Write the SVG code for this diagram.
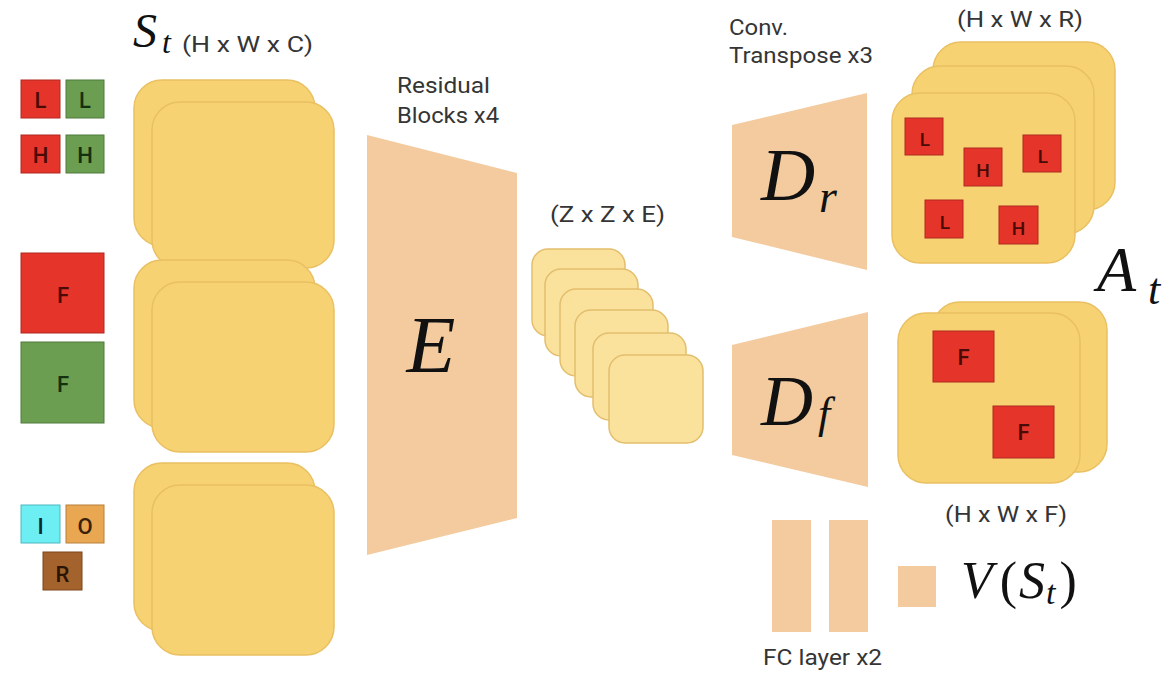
<svg xmlns="http://www.w3.org/2000/svg" width="1171" height="676" viewBox="0 0 1171 676">
<style>
.card{fill:#F7D272;stroke:#E9C062;stroke-width:1.5}
.small{fill:#FAE19C;stroke:#E3BE6C;stroke-width:1.5}
.trap{fill:#F3CB9F}
.lbl{font-family:Roboto,"Liberation Sans",sans-serif;font-size:22px;fill:#353535}
.math{font-family:"Liberation Serif","DejaVu Serif",serif;font-style:italic;fill:#111}
.up{font-style:normal}
.red{fill:#E5352A;stroke:#B0281F;stroke-width:1}
.green{fill:#6B9E50;stroke:#4E7A3A;stroke-width:1}
.bt{font-family:Roboto,"Liberation Sans",sans-serif;font-size:22px;font-weight:500;text-anchor:middle}
.bs{font-size:19px}
.dr{fill:#4A0A05}
.dg{fill:#15300E}
</style>
<rect width="1171" height="676" fill="#FFFFFF"/>

<g id="legend">
<rect class="red" x="21" y="80" width="39" height="38"/><text class="bt dr" x="40.5" y="108">L</text>
<rect class="green" x="66" y="80" width="38" height="38"/><text class="bt dg" x="85" y="108">L</text>
<rect class="red" x="21" y="135" width="39" height="38"/><text class="bt dr" x="40.5" y="163">H</text>
<rect class="green" x="66" y="135" width="38" height="38"/><text class="bt dg" x="85" y="163">H</text>
<rect class="red" x="21" y="253" width="83" height="80"/><text class="bt dr" x="63" y="303" font-size="24">F</text>
<rect class="green" x="21" y="342" width="83" height="81"/><text class="bt dg" x="63" y="392" font-size="24">F</text>
<rect x="21" y="505" width="39" height="38" fill="#6CEEF3" stroke="#4CB8C0" stroke-width="1"/><text class="bt" x="40.5" y="534" fill="#0E2A2C">I</text>
<rect x="66" y="505" width="38" height="38" fill="#E9A752" stroke="#B7803A" stroke-width="1"/><text class="bt" x="85" y="534" fill="#3A2208">O</text>
<rect x="43" y="552" width="39" height="38" fill="#A4622C" stroke="#7A451C" stroke-width="1"/><text class="bt" x="62.5" y="582" fill="#2A1404">R</text>
</g>

<g id="state">
<text class="math" x="133" y="47" font-size="48">S</text>
<text class="math" x="162" y="53" font-size="32">t</text>
<text class="lbl" x="182" y="52" textLength="131" lengthAdjust="spacingAndGlyphs">(H x W x C)</text>
<rect class="card" x="134" y="80" width="181" height="166" rx="28"/>
<rect class="card" x="152" y="102" width="182" height="166" rx="28"/>
<rect class="card" x="134" y="260" width="181" height="168" rx="28"/>
<rect class="card" x="152" y="282" width="182" height="170" rx="28"/>
<rect class="card" x="134" y="463" width="181" height="168" rx="28"/>
<rect class="card" x="152" y="485" width="182" height="170" rx="28"/>
</g>

<g id="encoder">
<text class="lbl" x="397" y="93" textLength="93" lengthAdjust="spacingAndGlyphs">Residual</text>
<text class="lbl" x="397" y="123" textLength="102" lengthAdjust="spacingAndGlyphs">Blocks x4</text>
<polygon class="trap" points="367,135 517,173 517,518 367,555"/>
<text class="math" x="431" y="372" font-size="80" text-anchor="middle">E</text>
</g>

<g id="latent">
<text class="lbl" x="550" y="222" textLength="115" lengthAdjust="spacingAndGlyphs">(Z x Z x E)</text>
<rect class="small" x="532" y="249" width="93" height="87" rx="16"/>
<rect class="small" x="545" y="269" width="93" height="87" rx="16"/>
<rect class="small" x="560" y="289" width="93" height="87" rx="16"/>
<rect class="small" x="575" y="310" width="93" height="87" rx="16"/>
<rect class="small" x="593" y="333" width="93" height="87" rx="16"/>
<rect class="small" x="609" y="355" width="94" height="88" rx="16"/>
</g>

<g id="decoder-r">
<text class="lbl" x="729" y="35" textLength="59" lengthAdjust="spacingAndGlyphs">Conv.</text>
<text class="lbl" x="729" y="63" textLength="144" lengthAdjust="spacingAndGlyphs">Transpose x3</text>
<polygon class="trap" points="732,125 867,93 867,270 732,237"/>
<text class="math" x="761" y="200" font-size="75">D</text>
<text class="math" x="819" y="212" font-size="46">r</text>
</g>

<g id="routes">
<text class="lbl" x="957" y="27" textLength="126" lengthAdjust="spacingAndGlyphs">(H x W x R)</text>
<rect class="card" x="933" y="42" width="182" height="168" rx="28"/>
<rect class="card" x="912" y="66" width="182" height="168" rx="28"/>
<rect class="card" x="892" y="93" width="183" height="170" rx="28"/>
<rect class="red" x="905" y="118" width="38" height="37"/><text class="bt bs dr" x="925" y="146">L</text>
<rect class="red" x="964" y="148" width="38" height="38"/><text class="bt bs dr" x="983" y="177">H</text>
<rect class="red" x="1023" y="135" width="38" height="37"/><text class="bt bs dr" x="1043" y="163">L</text>
<rect class="red" x="925" y="200" width="38" height="38"/><text class="bt bs dr" x="945" y="229">L</text>
<rect class="red" x="999" y="206" width="39" height="38"/><text class="bt bs dr" x="1018.5" y="235">H</text>
</g>

<g id="output">
<text class="math" x="1097" y="291" font-size="64">A</text>
<text class="math" x="1148" y="304" font-size="44">t</text>
</g>

<g id="decoder-f">
<polygon class="trap" points="732,345 868,312 868,487 732,455"/>
<text class="math" x="761" y="425" font-size="72">D</text>
<text class="math" x="818" y="428" font-size="44">f</text>
</g>

<g id="factories">
<rect class="card" x="932" y="302" width="175" height="170" rx="28"/>
<rect class="card" x="898" y="313" width="182" height="170" rx="28"/>
<rect class="red" x="933" y="331" width="61" height="51"/><text class="bt dr" x="963.5" y="365" font-size="18">F</text>
<rect class="red" x="993" y="406" width="61" height="52"/><text class="bt dr" x="1023.5" y="440" font-size="18">F</text>
<text class="lbl" x="945" y="522" textLength="122" lengthAdjust="spacingAndGlyphs">(H x W x F)</text>
</g>

<g id="value">
<rect class="trap" x="772" y="520" width="39" height="112"/>
<rect class="trap" x="829" y="520" width="39" height="112"/>
<rect class="trap" x="898" y="566" width="38" height="41"/>
<text class="lbl" x="763" y="665" textLength="119" lengthAdjust="spacingAndGlyphs">FC layer x2</text>
<text class="math" x="961" y="598" font-size="52">V<tspan class="up" dx="7">(</tspan><tspan dx="2">S</tspan><tspan font-size="34" dy="6" dx="1">t</tspan><tspan class="up" dy="-6" dx="4">)</tspan></text>
</g>

<g id="connectors"></g>
</svg>
